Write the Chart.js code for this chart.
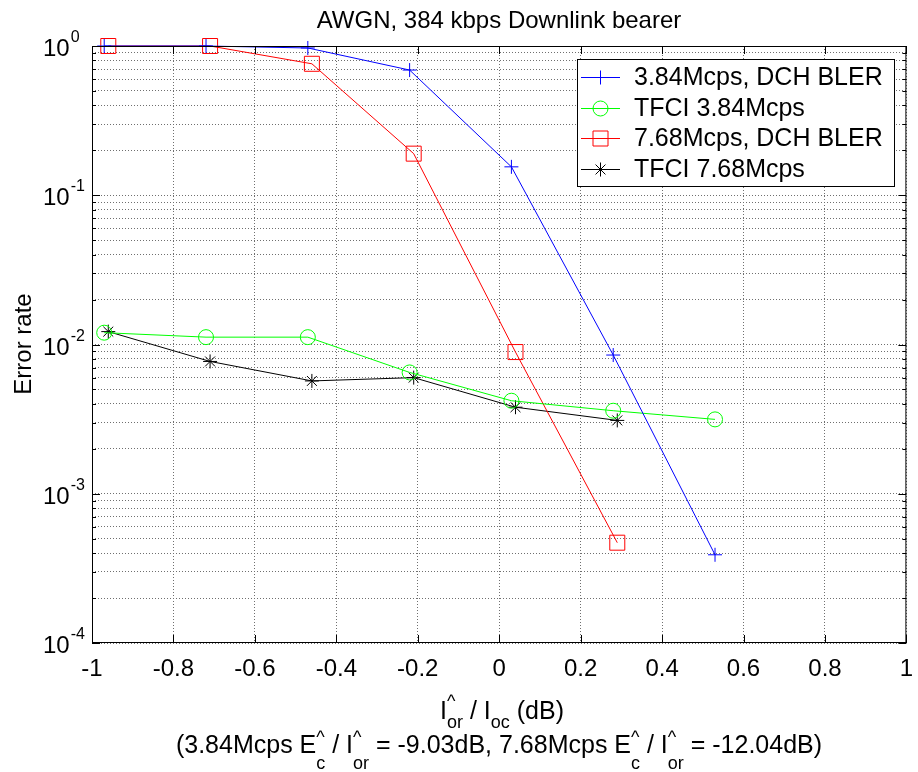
<!DOCTYPE html>
<html>
<head>
<meta charset="utf-8">
<script src="https://cdn.jsdelivr.net/npm/chart.js@4/dist/chart.umd.min.js"></script>
<style>
  html, body { margin: 0; padding: 0; background: #fff; }
</style>
</head>
<body>
<canvas id="chart" width="918" height="772"></canvas>
<script>
// Data (x in dB, y as error rate)
const X_384    = [-0.97, -0.72, -0.47, -0.22, 0.03, 0.28, 0.53];
const X_768    = [-0.96, -0.71, -0.46, -0.21, 0.04, 0.29];
const BLER_384 = [1.0, 1.0, 0.97, 0.69, 0.155, 0.0085, 0.00039];
const TFCI_384 = [0.0120, 0.0112, 0.0112, 0.0065, 0.0042, 0.0036, 0.00315];
const BLER_768 = [1.0, 1.0, 0.76, 0.19, 0.0089, 0.00047];
const TFCI_768 = [0.0122, 0.0077, 0.0057, 0.0060, 0.0038, 0.0031];

const SERIES_LABELS = ['3.84Mcps, DCH BLER', 'TFCI 3.84Mcps', '7.68Mcps, DCH BLER', 'TFCI 7.68Mcps'];
const Y_EXPONENTS   = [0, -1, -2, -3, -4];
const X_MIN = -1, X_MAX = 1, X_STEP = 0.2;

const FONT = '"Liberation Sans", Arial, sans-serif';
const GRID_COLOR = '#6f6f6f';

// log grid values: 1..9 x 10^e
const yGrid = [];
for (let e = -4; e <= 0; e++) {
  for (let m = 1; m <= 9; m++) {
    const v = m * Math.pow(10, e);
    if (v <= 1.0000001) yGrid.push(v);
  }
}

const toPoints = (xs, ys) => ys.map((y, i) => ({ x: xs[i], y: y }));

function makeSet(label, xs, ys, color, style, radius) {
  return {
    label: label,
    data: toPoints(xs, ys),
    showLine: true,
    borderColor: color,
    borderWidth: 1,
    backgroundColor: 'transparent',
    pointStyle: style,
    pointRadius: radius,
    pointBorderColor: color,
    pointBackgroundColor: 'transparent',
    pointBorderWidth: 1,
    clip: false,
  };
}

const datasets = [
  makeSet(SERIES_LABELS[0], X_384, BLER_384, '#0000ff', 'cross', 7),
  makeSet(SERIES_LABELS[1], X_384, TFCI_384, '#00ff00', 'circle', 7.5),
  makeSet(SERIES_LABELS[2], X_768, BLER_768, '#ff0000', 'rect', 10.6),
  makeSet(SERIES_LABELS[3], X_768, TFCI_768, '#000000', 'star', 7),
];

// marker for the legend samples
function drawMarker(ctx, style, x, y, color) {
  ctx.save();
  ctx.strokeStyle = color;
  ctx.lineWidth = 1;
  ctx.beginPath();
  if (style === 'cross') {
    ctx.moveTo(x - 7, y); ctx.lineTo(x + 7, y);
    ctx.moveTo(x, y - 7); ctx.lineTo(x, y + 7);
  } else if (style === 'circle') {
    ctx.arc(x, y, 7.5, 0, Math.PI * 2);
  } else if (style === 'rect') {
    ctx.rect(x - 7.5, y - 7.5, 15, 15);
  } else if (style === 'star') {
    ctx.moveTo(x - 7, y); ctx.lineTo(x + 7, y);
    ctx.moveTo(x, y - 7); ctx.lineTo(x, y + 7);
    const d = 7 * Math.SQRT1_2;
    ctx.moveTo(x - d, y - d); ctx.lineTo(x + d, y + d);
    ctx.moveTo(x - d, y + d); ctx.lineTo(x + d, y - d);
  }
  ctx.stroke();
  ctx.restore();
}

// text with hat/subscript pieces: strings are normal, objects are {sub, hat}
function drawRich(ctx, segs, cx, base, o) {
  const big = o.size + 'px ' + FONT;
  const small = o.small + 'px ' + FONT;
  const widths = segs.map(s => {
    if (typeof s === 'string') { ctx.font = big; return ctx.measureText(s).width; }
    ctx.font = small;
    return Math.max(ctx.measureText(s.sub).width, s.hat ? ctx.measureText('^').width : 0);
  });
  let x = cx - widths.reduce((a, b) => a + b, 0) / 2;
  ctx.textAlign = 'left';
  ctx.textBaseline = 'alphabetic';
  segs.forEach((s, i) => {
    if (typeof s === 'string') {
      ctx.font = big;
      ctx.fillText(s, x, base);
    } else {
      ctx.font = small;
      ctx.fillText(s.sub, x, base + o.subOff);
      if (s.hat) ctx.fillText('^', x, base + o.hatOff);
    }
    x += widths[i];
  });
}

function fmtX(v) {
  const r = Math.round(v * 10) / 10;
  return r === 0 ? '0' : String(r);
}

const decorPlugin = {
  id: 'decor',
  afterDraw(chart) {
    const ctx = chart.ctx;
    const area = chart.chartArea;
    const xs = chart.scales.x, ys = chart.scales.y;
    ctx.save();

    // axis box
    ctx.strokeStyle = '#000';
    ctx.lineWidth = 1;
    ctx.strokeRect(area.left + 0.5, area.top + 0.5, area.right - area.left - 1, area.bottom - area.top - 1);

    // inward ticks
    ctx.beginPath();
    for (let v = X_MIN; v <= X_MAX + 1e-9; v += X_STEP) {
      const px = Math.round(xs.getPixelForValue(v)) + 0.5;
      ctx.moveTo(px, area.bottom); ctx.lineTo(px, area.bottom - 8);
      ctx.moveTo(px, area.top); ctx.lineTo(px, area.top + 8);
    }
    yGrid.forEach(v => {
      const py = Math.round(ys.getPixelForValue(v)) + 0.5;
      const major = Math.abs(Math.log10(v) - Math.round(Math.log10(v))) < 1e-9;
      const len = major ? 8 : 4;
      ctx.moveTo(area.left, py); ctx.lineTo(area.left + len, py);
      ctx.moveTo(area.right, py); ctx.lineTo(area.right - len, py);
    });
    ctx.stroke();

    ctx.fillStyle = '#000';

    // x tick labels
    ctx.font = '24px ' + FONT;
    ctx.textAlign = 'center';
    ctx.textBaseline = 'alphabetic';
    for (let v = X_MIN; v <= X_MAX + 1e-9; v += X_STEP) {
      ctx.fillText(fmtX(v), xs.getPixelForValue(v), area.bottom + 33);
    }

    // y tick labels 10^e
    Y_EXPONENTS.forEach(e => {
      const py = ys.getPixelForValue(Math.pow(10, e));
      ctx.font = '24px ' + FONT;
      ctx.textAlign = 'left';
      ctx.fillText('10', 43, py + 10);
      const w = ctx.measureText('10').width;
      ctx.font = '16px ' + FONT;
      ctx.fillText(String(e), 43 + w + 1, py - 4);
    });

    // title
    ctx.font = '24px ' + FONT;
    ctx.textAlign = 'center';
    ctx.fillText('AWGN, 384 kbps Downlink bearer', 499, 28);

    // y axis title
    ctx.save();
    ctx.translate(31, 344);
    ctx.rotate(-Math.PI / 2);
    ctx.textAlign = 'center';
    ctx.fillText('Error rate', 0, 0);
    ctx.restore();

    // x axis title, two lines
    drawRich(ctx, ['I', { sub: 'or', hat: true }, ' / I', { sub: 'oc' }, ' (dB)'],
      502, 719, { size: 25, small: 18, subOff: 9, hatOff: -12 });
    drawRich(ctx, ['(3.84Mcps E', { sub: 'c', hat: true }, ' / I', { sub: 'or', hat: true },
      ' = -9.03dB, 7.68Mcps E', { sub: 'c', hat: true }, ' / I', { sub: 'or', hat: true }, ' = -12.04dB)'],
      499, 753, { size: 25, small: 18, subOff: 16, hatOff: -10 });

    // legend
    const box = { left: 577, top: 59, right: 895, bottom: 187 };
    ctx.fillStyle = '#fff';
    ctx.fillRect(box.left, box.top, box.right - box.left, box.bottom - box.top);
    ctx.strokeStyle = '#000';
    ctx.strokeRect(box.left + 0.5, box.top + 0.5, box.right - box.left - 1, box.bottom - box.top - 1);
    const rowY = [77, 108, 138, 169];
    chart.data.datasets.forEach((ds, i) => {
      const y = rowY[i] + 0.5;
      ctx.strokeStyle = ds.borderColor;
      ctx.beginPath();
      ctx.moveTo(581, y); ctx.lineTo(620, y);
      ctx.stroke();
      drawMarker(ctx, ds.pointStyle, 600.5, y, ds.borderColor);
      ctx.fillStyle = '#000';
      ctx.font = '25px ' + FONT;
      ctx.textAlign = 'left';
      ctx.textBaseline = 'middle';
      ctx.fillText(ds.label, 634, rowY[i] + 1);
    });

    ctx.restore();
  }
};

new Chart(document.getElementById('chart'), {
  type: 'scatter',
  data: { datasets: datasets },
  options: {
    responsive: false,
    animation: false,
    layout: { padding: { top: 46, right: 6, left: 0, bottom: 0 } },
    plugins: {
      legend: { display: false },
      title: { display: false },
      tooltip: { enabled: false },
    },
    scales: {
      x: {
        type: 'linear',
        min: X_MIN,
        max: X_MAX,
        ticks: { stepSize: X_STEP, display: false },
        grid: { color: GRID_COLOR, lineWidth: 1, drawTicks: false },
        border: { display: false, dash: [1, 2] },
        afterFit: s => { s.height = 129; },
      },
      y: {
        type: 'logarithmic',
        min: 1e-4,
        max: 1,
        ticks: { display: false },
        afterBuildTicks: s => { s.ticks = yGrid.map(v => ({ value: v })); },
        grid: { color: GRID_COLOR, lineWidth: 1, drawTicks: false },
        border: { display: false, dash: [1, 2] },
        afterFit: s => { s.width = 92; },
      },
    },
  },
  plugins: [decorPlugin],
});
</script>
</body>
</html>
